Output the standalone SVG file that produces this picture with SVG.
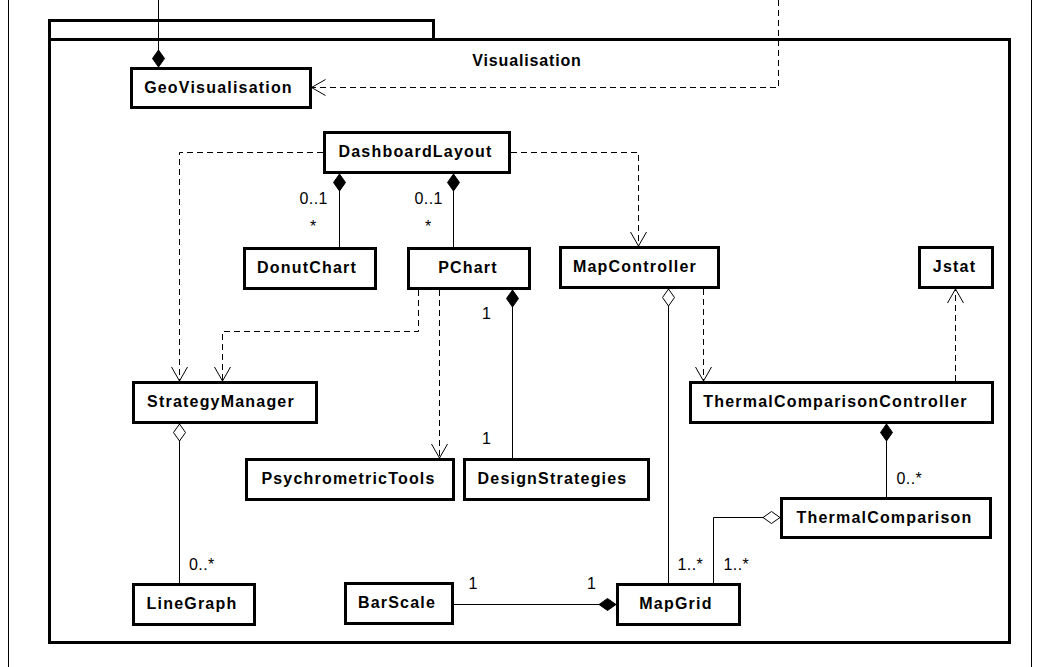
<svg xmlns="http://www.w3.org/2000/svg" width="1059" height="667" viewBox="0 0 1059 667">
<style>
.box{fill:#fff;stroke:#000;stroke-width:3}
.pkg{fill:none;stroke:#000;stroke-width:3}
.outer{fill:none;stroke:#000;stroke-width:1}
.name{font-family:"Liberation Sans",Arial,sans-serif;font-weight:bold;font-size:16px;letter-spacing:1.2px;text-anchor:middle;fill:#000}
.title{font-family:"Liberation Sans",Arial,sans-serif;font-weight:bold;font-size:16px;letter-spacing:0.85px;text-anchor:middle;fill:#000}
.mult{font-family:"Liberation Sans",Arial,sans-serif;font-size:16px;letter-spacing:0.4px;fill:#000}
.assoc{fill:none;stroke:#000;stroke-width:1}
.dep{fill:none;stroke:#000;stroke-width:1;stroke-dasharray:6 4}
</style>
<defs>
<marker id="arrow" markerUnits="userSpaceOnUse" markerWidth="20" markerHeight="20" viewBox="-16 -10 20 20" refX="0" refY="0" orient="auto" overflow="visible">
<path d="M-14,-8 L0,0 L-14,8" fill="none" stroke="#000" stroke-width="1"/>
</marker>
<marker id="dfill" markerUnits="userSpaceOnUse" markerWidth="20" markerHeight="16" viewBox="-1 -8 20 16" refX="0" refY="0" orient="auto" overflow="visible">
<path d="M0,0 L8.5,-6 L17,0 L8.5,6 Z" fill="#000" stroke="#000" stroke-width="1"/>
</marker>
<marker id="dopen" markerUnits="userSpaceOnUse" markerWidth="20" markerHeight="16" viewBox="-1 -8 20 16" refX="0" refY="0" orient="auto" overflow="visible">
<path d="M0,0 L8.5,-6 L17,0 L8.5,6 Z" fill="#fff" stroke="#000" stroke-width="1"/>
</marker>
</defs>
<rect x="0" y="0" width="1059" height="667" fill="#fff"/>
<g id="frame">
<line class="outer" x1="8.5" y1="0" x2="8.5" y2="667"/>
<line class="outer" x1="1031.5" y1="0" x2="1031.5" y2="667"/>
</g>
<g id="package-Visualisation">
<path class="pkg" d="M49.5,39.5 L49.5,20.5 L433.5,20.5 L433.5,39.5"/>
<rect class="pkg" x="49.5" y="39.5" width="960" height="603"/>
<text class="title" x="527" y="66">Visualisation</text>
</g>
<g id="connectors">
<path class="assoc" d="M158.5,67 L158.5,0" marker-start="url(#dfill)"/>
<path class="dep" d="M778.5,0 L778.5,87.5 L311.5,87.5" marker-end="url(#arrow)"/>
<path class="dep" d="M323,152.5 L179.5,152.5 L179.5,381" marker-end="url(#arrow)"/>
<path class="dep" d="M511,152.5 L638.5,152.5 L638.5,246" marker-end="url(#arrow)"/>
<path class="assoc" d="M339.5,174 L339.5,247" marker-start="url(#dfill)"/>
<path class="assoc" d="M453.5,174 L453.5,247" marker-start="url(#dfill)"/>
<path class="dep" d="M418.5,290 L418.5,331.5 L222.5,331.5 L222.5,381" marker-end="url(#arrow)"/>
<path class="dep" d="M439.5,290 L439.5,458" marker-end="url(#arrow)"/>
<path class="assoc" d="M512.5,290 L512.5,458" marker-start="url(#dfill)"/>
<path class="assoc" d="M668.5,289 L668.5,583" marker-start="url(#dopen)"/>
<path class="dep" d="M703.5,289 L703.5,381" marker-end="url(#arrow)"/>
<path class="dep" d="M955.5,381 L955.5,289" marker-end="url(#arrow)"/>
<path class="assoc" d="M886.5,424 L886.5,497" marker-start="url(#dfill)"/>
<path class="assoc" d="M780,517.5 L713.5,517.5 L713.5,583" marker-start="url(#dopen)"/>
<path class="assoc" d="M179.5,424 L179.5,583" marker-start="url(#dopen)"/>
<path class="assoc" d="M616,604.5 L454,604.5" marker-start="url(#dfill)"/>
<text class="mult" x="299.5" y="203.5">0..1</text>
<text class="mult" x="313.3" y="231.5" text-anchor="middle">*</text>
<text class="mult" x="414.5" y="203.5">0..1</text>
<text class="mult" x="428.3" y="231.5" text-anchor="middle">*</text>
<text class="mult" x="482" y="318.5">1</text>
<text class="mult" x="482" y="444">1</text>
<text class="mult" x="896.5" y="483.5">0..*</text>
<text class="mult" x="189" y="569.5">0..*</text>
<text class="mult" x="677.5" y="569.5">1..*</text>
<text class="mult" x="723.5" y="569.5">1..*</text>
<text class="mult" x="587" y="588.5">1</text>
<text class="mult" x="468.5" y="588.5">1</text>
</g>
<g id="GeoVisualisation"><rect class="box" x="131.5" y="68.5" width="179" height="39"/><text class="name" x="218.5" y="93">GeoVisualisation</text></g>
<g id="DashboardLayout"><rect class="box" x="324.5" y="132.5" width="185" height="40"/><text class="name" x="415.5" y="157">DashboardLayout</text></g>
<g id="DonutChart"><rect class="box" x="244.5" y="248.5" width="131" height="40"/><text class="name" x="307" y="273">DonutChart</text></g>
<g id="PChart"><rect class="box" x="408.5" y="248.5" width="121" height="40"/><text class="name" x="468" y="273">PChart</text></g>
<g id="MapController"><rect class="box" x="560.5" y="247.5" width="158" height="40"/><text class="name" x="635" y="272">MapController</text></g>
<g id="Jstat"><rect class="box" x="919.5" y="247.5" width="73" height="40"/><text class="name" x="954.5" y="272">Jstat</text></g>
<g id="StrategyManager"><rect class="box" x="133.5" y="382.5" width="183" height="40"/><text class="name" x="221" y="407">StrategyManager</text></g>
<g id="ThermalComparisonController"><rect class="box" x="690.5" y="382.5" width="302" height="40"/><text class="name" x="835.5" y="407">ThermalComparisonController</text></g>
<g id="PsychrometricTools"><rect class="box" x="246.5" y="459.5" width="207" height="40"/><text class="name" x="348.5" y="484">PsychrometricTools</text></g>
<g id="DesignStrategies"><rect class="box" x="464.5" y="459.5" width="184" height="40"/><text class="name" x="552.5" y="484">DesignStrategies</text></g>
<g id="ThermalComparison"><rect class="box" x="781.5" y="498.5" width="209" height="39"/><text class="name" x="884.5" y="523">ThermalComparison</text></g>
<g id="LineGraph"><rect class="box" x="133.5" y="584.5" width="121" height="40"/><text class="name" x="192" y="609">LineGraph</text></g>
<g id="BarScale"><rect class="box" x="345.5" y="583.5" width="107" height="40"/><text class="name" x="397" y="608">BarScale</text></g>
<g id="MapGrid"><rect class="box" x="617.5" y="584.5" width="122" height="40"/><text class="name" x="676" y="609">MapGrid</text></g>
</svg>
